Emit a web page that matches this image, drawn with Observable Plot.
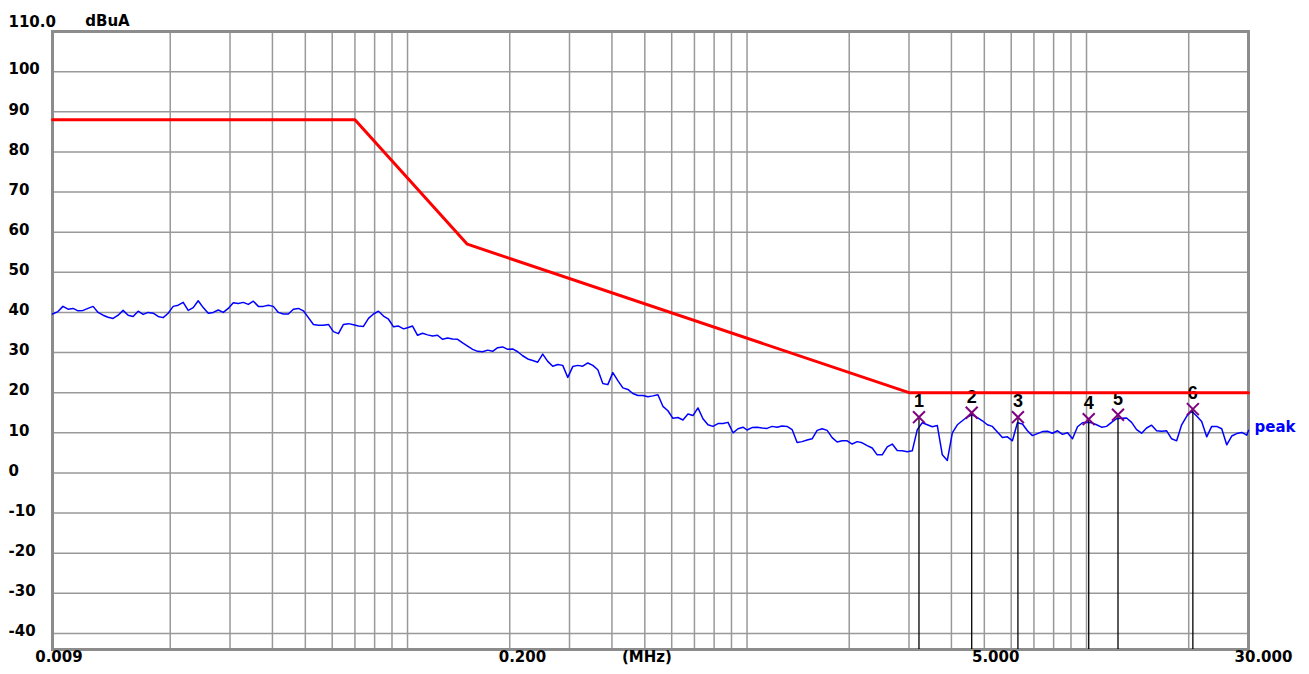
<!DOCTYPE html>
<html><head><meta charset="utf-8">
<script src="https://cdn.jsdelivr.net/npm/d3@7"></script>
<script src="https://cdn.jsdelivr.net/npm/@observablehq/plot@0.6"></script>
<style>html,body{margin:0;padding:0;background:#fff;} svg{display:block;}</style>
</head><body>
<script>
// ---- data ----
const peakFreq = [
0.009, 0.00934, 0.00966,
0.01, 0.010346, 0.010703, 0.011073, 0.011455, 0.011851, 0.01226, 0.012684, 0.013122, 0.013576,
0.014045, 0.01453, 0.015031, 0.01555, 0.016088, 0.016643, 0.017219, 0.017813, 0.018428, 0.019064,
0.019724, 0.020404, 0.021109, 0.021837, 0.022594, 0.023373, 0.02418, 0.025015, 0.025882, 0.026774,
0.0277, 0.028655, 0.029648, 0.03067, 0.031732, 0.032827, 0.033963, 0.035134, 0.03635, 0.037604,
0.038905, 0.040247, 0.04164, 0.043076, 0.044566, 0.046104, 0.0477, 0.049345, 0.05105, 0.052812,
0.054639, 0.056524, 0.058479, 0.060496, 0.062589, 0.064748, 0.066988, 0.069298, 0.071696, 0.074168,
0.076736, 0.079381, 0.08213, 0.084961, 0.087902, 0.090932, 0.094082, 0.097325,
0.1, 0.10346, 0.10703, 0.11073, 0.11455, 0.11851, 0.1226, 0.12684, 0.13122, 0.13576,
0.14045, 0.1453, 0.15031, 0.1555, 0.16088, 0.16643, 0.17219, 0.17813, 0.18428, 0.19064,
0.19724, 0.20404, 0.21109, 0.21837, 0.22594, 0.23373, 0.2418, 0.25015, 0.25882, 0.26774,
0.277, 0.28655, 0.29648, 0.3067, 0.31732, 0.32827, 0.33963, 0.35134, 0.3635, 0.37604,
0.38905, 0.40247, 0.4164, 0.43076, 0.44566, 0.46104, 0.477, 0.49345, 0.5105, 0.52812,
0.54639, 0.56524, 0.58479, 0.60496, 0.62589, 0.64748, 0.66988, 0.69298, 0.71696, 0.74168,
0.76736, 0.79381, 0.8213, 0.84961, 0.87902, 0.90932, 0.94082, 0.97325,
1.0, 1.0346, 1.0703, 1.1073, 1.1455, 1.1851, 1.226, 1.2684, 1.3122, 1.3576,
1.4045, 1.453, 1.5031, 1.555, 1.6088, 1.6643, 1.7219, 1.7813, 1.8428, 1.9064,
1.9724, 2.0404, 2.1109, 2.1837, 2.2594, 2.3373, 2.418, 2.5015, 2.5882, 2.6774,
2.77, 2.8655, 2.9648, 3.067, 3.1732, 3.2827, 3.3963, 3.5134, 3.635, 3.7604,
3.8905, 4.0247, 4.164, 4.3076, 4.4566, 4.6104, 4.77, 4.9345, 5.105, 5.2812,
5.4639, 5.6524, 5.8479, 6.0496, 6.2589, 6.4748, 6.6988, 6.9298, 7.1696, 7.4168,
7.6736, 7.9381, 8.213, 8.4961, 8.7902, 9.0932, 9.4082, 9.7325,
10, 10.346, 10.703, 11.073, 11.455, 11.851, 12.26, 12.684, 13.122, 13.576,
14.045, 14.53, 15.031, 15.55, 16.088, 16.643, 17.219, 17.813, 18.428, 19.064,
19.724, 20.404, 21.109, 21.837, 22.594, 23.373, 24.18, 25.015, 25.882, 26.774,
27.7, 28.655, 29.648, 30
];
const peakLevel = [
39.6, 40.2, 41.5,
40.8, 41.0, 40.4, 40.5, 41.0, 41.5, 40.0, 39.3, 38.8, 38.5,
39.3, 40.5, 39.3, 39.0, 40.3, 39.5, 40.0, 39.8, 39.0, 38.7,
39.8, 41.5, 41.8, 42.5, 40.5, 41.2, 42.9, 41.2, 39.8, 40.0,
40.6, 40.0, 41.0, 42.4, 42.2, 42.5, 42.0, 42.8, 41.5, 41.5,
41.8, 41.5, 40.0, 39.6, 39.6, 40.8, 41.0, 40.4, 38.7, 37.0,
36.8, 36.8, 37.0, 35.2, 34.7, 37.0, 37.2, 36.9, 36.6, 36.5,
38.5, 39.6, 40.3, 39.1, 38.3, 36.4, 36.6, 35.9,
36.2, 36.6, 34.3, 34.8, 34.4, 34.1, 34.3, 33.3, 33.6, 33.4,
33.3, 32.4, 31.6, 30.8, 30.3, 30.2, 30.6, 30.3, 31.2, 31.4,
30.8, 30.9, 30.2, 29.2, 28.4, 28.0, 27.6, 29.6, 27.8, 26.6,
27.0, 26.8, 23.8, 26.5, 26.8, 26.6, 27.4, 26.8, 25.7, 22.3,
22.0, 25.0, 23.0, 21.2, 20.8, 19.8, 19.3, 19.3, 19.0, 19.2,
19.5, 16.6, 15.5, 13.6, 13.8, 13.2, 14.7, 14.3, 16.2, 13.5,
12.0, 11.6, 12.3, 12.3, 12.6, 10.0, 11.0, 11.4,
10.7, 11.3, 11.4, 11.2, 11.1, 11.6, 11.4, 11.7, 11.6, 10.8,
7.6, 7.8, 8.2, 8.5, 10.6, 11.0, 10.6, 8.8, 7.7, 8.0,
8.0, 7.2, 7.8, 7.5, 6.8, 6.2, 4.5, 4.5, 6.5, 7.2,
5.6, 5.5, 5.3, 5.5, 10.8, 12.5, 12.0, 11.5, 11.8, 4.5,
3.1, 10.0, 12.0, 13.0, 14.0, 14.5, 13.8, 13.0, 12.0, 11.6,
10.2, 8.8, 9.0, 8.0, 12.5, 12.2, 10.5, 9.3, 9.8, 10.3,
10.4, 9.9, 10.5, 9.6, 10.0, 8.5, 11.5, 12.5,
12.6, 12.5, 12.0, 11.4, 11.6, 12.6, 13.5, 13.6, 13.7, 12.6,
10.8, 9.9, 11.2, 11.9, 10.5, 10.4, 10.5, 8.5, 8.0, 12.0,
14.1, 15.4, 14.2, 12.8, 9.0, 11.6, 11.6, 11.0, 7.0, 9.2,
9.8, 10.1, 9.4, 10.6
];
const limitFreq = [0.009, 0.07, 0.15, 3, 30];
const limitLevel = [88, 88, 57, 20, 20];
const markerNo = ["1", "2", "3", "4", "5", "6"];
const markerFreq = [3.21, 4.59, 6.28, 10.15, 12.38, 20.57];
const markerLevel = [13.9, 15.0, 13.9, 13.4, 14.5, 15.9];
const gridFreq = [0.02,0.03,0.04,0.05,0.06,0.07,0.08,0.09,0.1,0.2,0.3,0.4,0.5,0.6,0.7,0.8,0.9,1,2,3,4,5,6,7,8,9,10,20];
const gridLevel = [100,90,80,70,60,50,40,30,20,10,0,-10,-20,-30,-40];
const yTickLabels = ["100","90","80","70","60","50","40","30","20","10","0","-10","-20","-30","-40"];
const xLabelText = ["0.009", "0.200", "(MHz)", "5.000", "30.000"];
const xLabelPos = [0.0094, 0.218, 0.507, 5.40, 33.2];
const yTopLabel = "110.0";
const yUnit = "dBuA";
const traceName = "peak";

// ---- tables built from the arrays ----
const peak = peakFreq.map((f, i) => ({f, v: peakLevel[i]}));
const limit = limitFreq.map((f, i) => ({f, v: limitLevel[i]}));
const markers = markerNo.map((n, i) => ({n, f: markerFreq[i], v: markerLevel[i]}));
const yTicks = gridLevel.map((v, i) => ({v, t: yTickLabels[i]}));
const xLabels = xLabelText.map((t, i) => ({t, f: xLabelPos[i]}));

const FONT = "'DejaVu Sans', sans-serif";
const chart = Plot.plot({
  width: 1309, height: 674,
  marginLeft: 52, marginRight: 61, marginTop: 31, marginBottom: 25,
  style: {background: "#fff", fontFamily: FONT, overflow: "visible"},
  x: {type: "log", domain: [0.009, 30], axis: null},
  y: {domain: [-44, 110], axis: null},
  marks: [
    Plot.ruleX(gridFreq, {stroke: "#999999", strokeWidth: 1.5}),
    Plot.ruleY(gridLevel, {stroke: "#999999", strokeWidth: 1.5}),
    Plot.frame({stroke: "#8c8c8c", strokeWidth: 3}),
    Plot.line(peak, {x: "f", y: "v", stroke: "#0000ff", strokeWidth: 1.5}),
    Plot.ruleX(markers, {x: "f", y1: "v", y2: d => -44, stroke: "#000", strokeWidth: 1.3}),
    Plot.dot(markers, {x: "f", y: "v", symbol: "times", r: 5.5, stroke: "#800080", strokeWidth: 2}),
    Plot.text(markers, {x: "f", y: "v", text: "n", dy: -15.5, fontSize: 18, fontWeight: "bold", fontFamily: "'Liberation Sans', Arial, sans-serif", fill: "#000"}),
    Plot.line(limit, {x: "f", y: "v", stroke: "#ff0000", strokeWidth: 3}),
    Plot.text(yTicks, {y: "v", text: "t", frameAnchor: "left", dx: -44, dy: -2, textAnchor: "start", fontSize: 15, fontWeight: "bold", fill: "#000"}),
    Plot.text([yTopLabel], {text: d => d, frameAnchor: "top-left", dx: -44, dy: -15, textAnchor: "start", fontSize: 15, fontWeight: "bold", fill: "#000"}),
    Plot.text([yUnit], {text: d => d, frameAnchor: "top-left", dx: 55, dy: -16, textAnchor: "middle", fontSize: 15, fontWeight: "bold", fill: "#000"}),
    Plot.text(xLabels, {x: "f", text: "t", frameAnchor: "bottom", dy: 12, textAnchor: "middle", fontSize: 15, fontWeight: "bold", fill: "#000"}),
    Plot.text([traceName], {x: d => 30, y: d => 11.3, text: d => d, dx: 6, textAnchor: "start", fontSize: 15, fontWeight: "bold", fill: "#0000ff"})
  ]
});
document.body.appendChild(chart);
</script>
</body></html>
